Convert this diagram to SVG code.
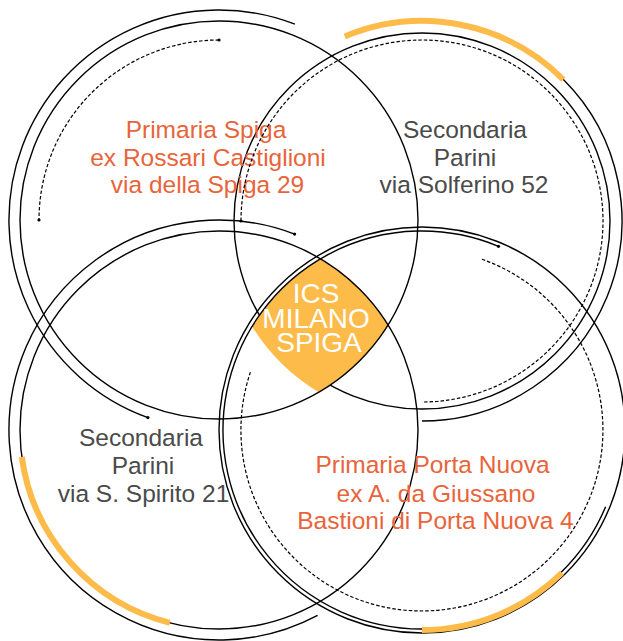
<svg xmlns="http://www.w3.org/2000/svg" width="623" height="641" viewBox="0 0 623 641">
<style>
.ln{fill:none;stroke:#000;stroke-width:1.4}
.ds{fill:none;stroke:#000;stroke-width:1.2;stroke-dasharray:3.5 2}
.or{fill:none;stroke:#fdbb4a;stroke-width:6}
.dot{fill:#000}
text{font-family:"Liberation Sans",Arial,sans-serif;text-anchor:middle}
.t1{font-size:24.5px;fill:#e8643a}
.t2{font-size:24.5px;fill:#4a4a4a}
.t3{font-size:28px;fill:#fff}
</style>
<rect width="623" height="641" fill="#fff"/>
<g id="connectors">
<circle class="ln" cx="422" cy="221" r="188"/>
</g>
<g id="ics-center-shape">
<path d="M 320.5 258.83 A 199 199 0 0 1 388.05 325 A 199 199 0 0 1 318.67 392.24 A 200 200 0 0 1 252.06 326.45 A 199 199 0 0 1 320.5 258.83 Z" fill="#fdbb4a"/>
</g>
<g id="primaria-spiga">
<circle class="ln" cx="219" cy="220" r="199"/>
<path class="ln" d="M 294.9 24.2 A 210 210 0 1 0 147.9 417.6"/>
<path class="ds" d="M 219 40 A 180 180 0 0 0 39 220"/>
<circle class="dot" cx="219" cy="40" r="1.6"/>
<circle class="dot" cx="39" cy="220" r="1.6"/>
<circle class="dot" cx="147.9" cy="417.6" r="1.6"/>
<text class="t1" x="206" y="138">Primaria Spiga</text>
<text class="t1" x="208" y="166">ex Rossari Castiglioni</text>
<text class="t1" x="207.5" y="193">via della Spiga 29</text>
</g>
<g id="secondaria-solferino">
<path class="or" d="M 344.8 36.5 A 200 200 0 0 1 563.4 79.6"/>
<path class="ln" d="M 563.4 79.6 A 200 200 0 0 1 422 421"/>
<path class="ds" d="M 241 221 A 181 181 0 1 1 422 402"/>
<circle class="dot" cx="241" cy="221" r="1.6"/>
<text class="t2" x="465" y="138">Secondaria</text>
<text class="t2" x="465" y="166">Parini</text>
<text class="t2" x="464" y="193">via Solferino 52</text>
</g>
<g id="secondaria-spirito">
<circle class="ln" cx="219" cy="430" r="199"/>
<path class="or" d="M 169.8 622.8 A 199 199 0 0 1 21.8 457"/>
<path class="ln" d="M 294.6 234.1 A 210 210 0 1 0 317.6 615.4"/>
<circle class="dot" cx="294.6" cy="234.1" r="1.6"/>
<text class="t2" x="141" y="446">Secondaria</text>
<text class="t2" x="143" y="474">Parini</text>
<text class="t2" x="143.5" y="502">via S. Spirito 21</text>
</g>
<g id="primaria-porta-nuova">
<circle class="ln" cx="422" cy="430" r="203"/>
<path class="ln" d="M 498.5 246.3 A 199 199 0 1 0 422 629"/>
<path class="or" d="M 422 630 A 200 200 0 0 0 561.9 572.9"/>
<path class="ln" d="M 561.2 572.2 A 199 199 0 0 0 605.6 506.8"/>
<path class="ds" d="M 481.9 259.2 A 181 181 0 1 1 250.4 372.2"/>
<circle class="dot" cx="498.5" cy="246.3" r="1.6"/>
<text class="t1" x="432.5" y="473">Primaria Porta Nuova</text>
<text class="t1" x="436" y="502">ex A. da Giussano</text>
<text class="t1" x="435.5" y="529">Bastioni di Porta Nuova 4</text>
</g>
<g id="ics-center">
<text class="t3" x="316" y="303">ICS</text>
<text class="t3" x="316" y="328">MILANO</text>
<text class="t3" x="319" y="352">SPIGA</text>
</g>
</svg>
